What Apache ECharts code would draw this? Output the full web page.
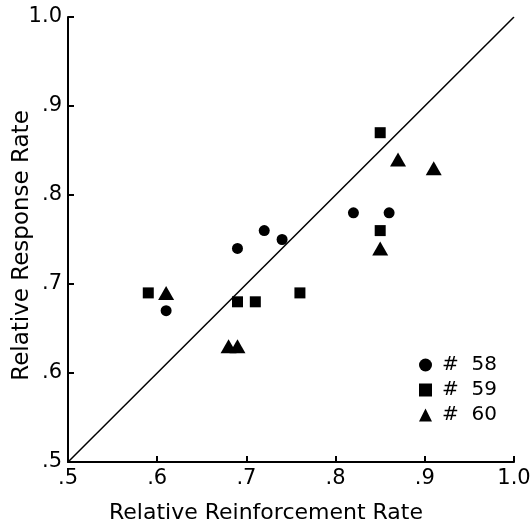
<!DOCTYPE html>
<html>
<head>
<meta charset="utf-8">
<script src="https://cdn.jsdelivr.net/npm/echarts@6/dist/echarts.min.js"></script>
<style>
html,body{margin:0;padding:0;background:#fff;}
#chart{width:532px;height:528px;}
</style>
</head>
<body>
<div id="chart"></div>
<script>
const subjectNames = ['#  58', '#  59', '#  60'];
const s58x = [0.61, 0.69, 0.72, 0.74, 0.82, 0.86];
const s58y = [0.67, 0.74, 0.76, 0.75, 0.78, 0.78];
const s59x = [0.59, 0.69, 0.71, 0.76, 0.85, 0.85];
const s59y = [0.69, 0.68, 0.68, 0.69, 0.87, 0.76];
const s60x = [0.61, 0.68, 0.69, 0.85, 0.87, 0.91];
const s60y = [0.69, 0.63, 0.63, 0.74, 0.84, 0.83];
const diagX = [0.5, 1.0];
const diagY = [0.5, 1.0];
const xTickLabels = ['.5', '.6', '.7', '.8', '.9', '1.0'];
const yTickLabels = ['.5', '.6', '.7', '.8', '.9', '1.0'];
const xTitle = 'Relative Reinforcement Rate';
const yTitle = 'Relative Response Rate';

const zip = (xs, ys) => xs.map((x, i) => [x, ys[i]]);
const FONT = 'DejaVu Sans';
const idx = v => Math.round((v - 0.5) / 0.1);

const chart = echarts.init(document.getElementById('chart'), null, {renderer: 'canvas'});
const axisCommon = {
  type: 'value', min: 0.5, max: 1.0, interval: 0.1,
  axisLine: {show: true, lineStyle: {color: '#000', width: 2}},
  axisTick: {show: true, inside: true, length: 6, lineStyle: {color: '#000', width: 2}},
  splitLine: {show: false},
  nameMoveOverlap: false
};
const markStyle = {color: '#000', opacity: 1};
chart.setOption({
  animation: false,
  backgroundColor: '#fff',
  grid: {left: 68, right: 18, top: 17, bottom: 66, containLabel: false, outerBoundsMode: 'none'},
  legend: {
    orient: 'vertical', left: 414, top: 350,
    itemWidth: 13, itemHeight: 13, itemGap: 5,
    textStyle: {color: '#000', fontFamily: FONT, fontSize: 20, padding: [0, 0, 0, 5]},
    data: [
      {name: subjectNames[0], icon: 'circle'},
      {name: subjectNames[1], icon: 'rect'},
      {name: subjectNames[2], icon: 'triangle'}
    ]
  },
  xAxis: Object.assign({}, axisCommon, {
    name: xTitle, nameLocation: 'middle', nameGap: 40,
    nameTextStyle: {color: '#000', fontFamily: FONT, fontSize: 22, padding: [0, 50, 0, 0]},
    axisLabel: {color: '#000', fontFamily: FONT, fontSize: 21, margin: 6,
      formatter: v => xTickLabels[idx(v)]}
  }),
  yAxis: Object.assign({}, axisCommon, {
    name: yTitle, nameLocation: 'middle', nameGap: 34,
    nameTextStyle: {color: '#000', fontFamily: FONT, fontSize: 23, padding: [0, 12, 0, 0]},
    axisLabel: {color: '#000', fontFamily: FONT, fontSize: 21, margin: 6,
      formatter: v => yTickLabels[idx(v)]}
  }),
  series: [
    {type: 'line', data: zip(diagX, diagY), symbol: 'none', silent: true,
     lineStyle: {color: '#000', width: 1.5}, z: 1},
    {name: subjectNames[0], type: 'scatter', symbol: 'circle', symbolSize: 11,
     itemStyle: markStyle, data: zip(s58x, s58y), z: 3},
    {name: subjectNames[1], type: 'scatter', symbol: 'rect', symbolSize: 11,
     itemStyle: markStyle, data: zip(s59x, s59y), z: 3},
    {name: subjectNames[2], type: 'scatter', symbol: 'triangle', symbolSize: [16, 14],
     itemStyle: markStyle, data: zip(s60x, s60y), z: 3}
  ]
});
</script>
</body>
</html>
